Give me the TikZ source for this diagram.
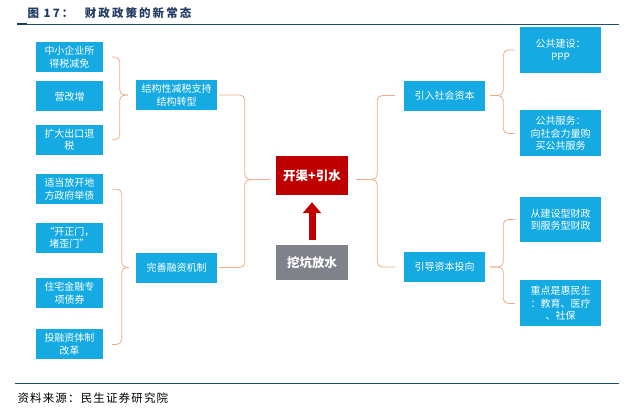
\documentclass[tikz,border=0pt]{standalone}
\usepackage{fontspec}
\setmainfont{Noto Sans CJK SC}
\usepackage{tikz}
\usetikzlibrary{arrows.meta, positioning}

\definecolor{boxblue}{RGB}{22,170,226}
\definecolor{deepred}{RGB}{192,0,0}
\definecolor{slategrey}{RGB}{128,130,137}
\definecolor{bracecol}{RGB}{240,172,135}
\definecolor{rulecol}{RGB}{32,78,110}
\definecolor{titlecol}{RGB}{35,60,100}

\begin{document}
\begin{tikzpicture}[
  x=1pt, y=1pt,
  font=\fontsize{10}{12.5}\selectfont,
  bbox/.style={fill=boxblue, text=white, align=center, inner sep=2pt, minimum width=67pt, minimum height=30pt},
  wbox/.style={bbox, minimum width=81pt},
  brc/.style={draw=bracecol, line width=0.8pt, rounded corners=5pt},
  arw/.style={draw=deepred, line width=7pt, -{Triangle[width=18pt, length=11pt]}, shorten <=5pt, shorten >=7pt}
]
  \fill[white] (0,0) rectangle (638,-415);
  \useasboundingbox (0,0) rectangle (638,-415);

  % title and rules
  \node[anchor=west, text=titlecol, font=\fontsize{11.5}{13}\selectfont\bfseries\addfontfeatures{LetterSpace=18}] (ttl) at (24,-13) {图 17：\quad 财政政策的新常态};
  \coordinate (tl) at (17,-24);
  \coordinate (tr) at (619,-24);
  \draw[rulecol, line width=0.9pt] (tl) -- (tr);
  \draw[rulecol!80!black, line width=2.4pt] (tl) -- ++(10,0);
  \coordinate (bl) at (15,-383);
  \coordinate (br) at (619,-383);
  \draw[rulecol, line width=0.9pt] (bl) -- (br);
  \node[anchor=west, font=\fontsize{11.5}{13}\selectfont\addfontfeatures{LetterSpace=10}] (src) at (14,-398) {资料来源：民生证券研究院};

  % left column
  \node[bbox] (a1) at (69.5,-57) {中小企业所\\得税减免};
  \node[bbox, below=9pt of a1] (a2) {营改增};
  \node[bbox, below=13pt of a2] (a3) {扩大出口退\\税};
  \node[bbox, below=19pt of a3] (a4) {适当放开地\\方政府举债};
  \node[bbox, below=18pt of a4] (a5) {“开正门，\\堵歪门”};
  \node[bbox, below=25pt of a5] (a6) {住宅金融专\\项债券};
  \node[bbox, below=21pt of a6] (a7) {投融资体制\\改革};

  \node[wbox] (m1) at (176.5,-95) {结构性减税支持\\结构转型};
  \node[wbox] (m2) at (176.5,-267.5) {完善融资机制};

  % centre
  \node[fill=deepred, text=white, minimum width=72pt, minimum height=39pt, font=\fontsize{12.5}{14}\selectfont\bfseries] (c) at (312,-175.5) {开渠+引水};
  \node[fill=slategrey, text=white, minimum width=72pt, minimum height=35pt, font=\fontsize{12.5}{14}\selectfont\bfseries, below=50pt of c] (g) {挖坑放水};
  \draw[arw] (g) -- (c);

  % right side
  \node[wbox] (r1) at (444.5,-95.5) {引入社会资本};
  \node[wbox] (r2) at (444.5,-267) {引导资本投向};

  \node[wbox, minimum height=46pt] (s1) at (560.5,-50) {公共建设：\\PPP};
  \node[wbox, minimum height=46pt, below=37pt of s1] (s2) {公共服务：\\向社会力量购\\买公共服务};
  \node[wbox, minimum height=45pt] (s3) at (560.5,-219.5) {从建设型财政\\到服务型财政};
  \node[wbox, minimum height=46pt, below=38pt of s3] (s4) {重点是惠民生\\：教育、医疗\\、社保};

  % braces
  \draw[brc] ([xshift=9pt]a1.east) -| ([xshift=-16pt]m1.west) -- ([xshift=-8pt]m1.west);
  \draw[brc] ([xshift=9pt]a3.east) -| ([xshift=-16pt]m1.west) -- ([xshift=-8pt]m1.west);
  \draw[brc] ([xshift=9pt]a4.east) -| ([xshift=-14pt]m2.west) -- ([xshift=-7pt]m2.west);
  \draw[brc] ([xshift=9pt]a7.east) -| ([xshift=-14pt]m2.west) -- ([xshift=-7pt]m2.west);

  \draw[brc] ([xshift=2pt]m1.east) -| ([xshift=-31pt,yshift=-4pt]c.west) -- ([xshift=-6pt,yshift=-4pt]c.west);
  \draw[brc] ([xshift=2pt]m2.east) -| ([xshift=-31pt,yshift=-4pt]c.west) -- ([xshift=-6pt,yshift=-4pt]c.west);

  \draw[brc] ([xshift=-9pt]r1.west) -| ([xshift=29pt,yshift=-4pt]c.east) -- ([xshift=8pt,yshift=-4pt]c.east);
  \draw[brc] ([xshift=-9pt]r2.west) -| ([xshift=29pt,yshift=-4pt]c.east) -- ([xshift=8pt,yshift=-4pt]c.east);

  \draw[brc] ([xshift=-5pt]s1.west) -| ([xshift=18pt]r1.east) -- ([xshift=5pt]r1.east);
  \draw[brc] ([xshift=-5pt]s2.west) -| ([xshift=18pt]r1.east) -- ([xshift=5pt]r1.east);
  \draw[brc] ([xshift=-5pt]s3.west) -| ([xshift=18pt]r2.east) -- ([xshift=5pt]r2.east);
  \draw[brc] ([xshift=-5pt]s4.west) -| ([xshift=18pt]r2.east) -- ([xshift=5pt]r2.east);
\end{tikzpicture}
\end{document}
